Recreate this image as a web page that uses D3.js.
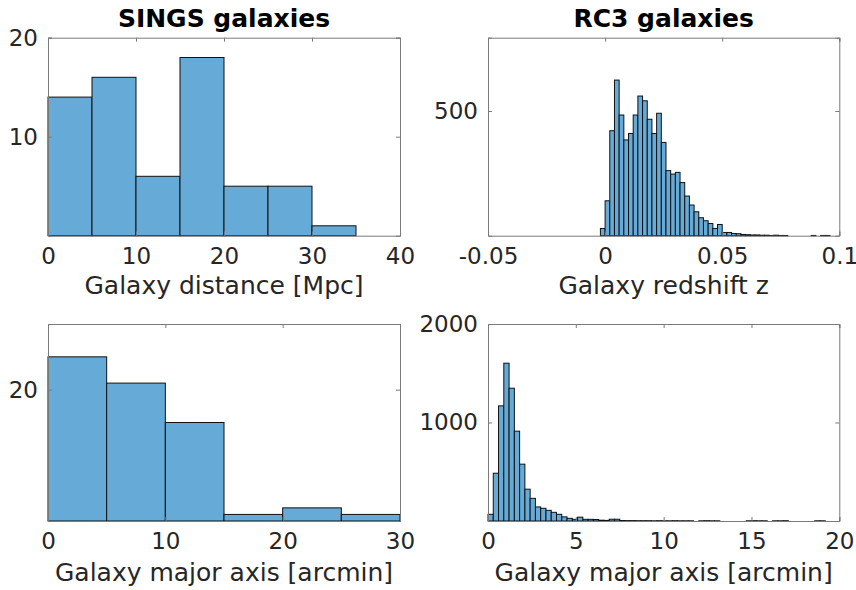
<!DOCTYPE html>
<html>
<head>
<meta charset="utf-8">
<script src="https://cdn.jsdelivr.net/npm/d3@7/dist/d3.min.js"></script>
<style>
  html, body { margin: 0; padding: 0; background: #fff; }
  svg { display: block; font-family: "DejaVu Sans", sans-serif; }
</style>
</head>
<body>
<svg id="chart" width="856" height="590"></svg>
<script>
// SINGS distance histogram (bin width 5 Mpc, starting at 0)
const singsDistStart = 0, singsDistWidth = 5;
const singsDistCounts = [14, 16, 6, 18, 5, 5, 1];
const singsDistXTicks = [0, 10, 20, 30, 40];
const singsDistYTicks = [10, 20];

// RC3 redshift histogram (bin width 0.002, starting at -0.002)
const rc3ZStart = -0.002, rc3ZWidth = 0.002;
const rc3ZCounts = [29, 140, 421, 624, 484, 384, 410, 484, 560, 541,
                    467, 410, 491, 374, 261, 247, 254, 213, 159, 123,
                    96, 72, 60, 49, 29, 45, 13, 13, 9, 8,
                    5, 4, 3, 3, 2, 2, 1, 2, 1, 1,
                    0, 0, 0, 0, 0, 1, 0, 1, 1];
const rc3ZXTicks = [-0.05, 0, 0.05, 0.1];
const rc3ZXTickLabels = ["-0.05", "0", "0.05", "0.1"];
const rc3ZYTicks = [500];

// SINGS major-axis histogram (bin width 5 arcmin, starting at 0)
const singsAxStart = 0, singsAxWidth = 5;
const singsAxCounts = [25, 21, 15, 1, 2, 1];
const singsAxXTicks = [0, 10, 20, 30];
const singsAxYTicks = [20];

// RC3 major-axis histogram (bin width 0.3 arcmin, starting at 0)
const rc3AxStart = 0, rc3AxWidth = 0.3;
const rc3AxCounts = [68, 485, 1169, 1602, 1348, 912, 577, 323, 230, 143,
                     129, 108, 88, 68, 42, 27, 17, 39, 17, 17,
                     15, 8, 6, 18, 18, 5, 4, 4, 3, 3,
                     3, 2, 3, 2, 2, 3, 2, 2, 2, 0,
                     2, 3, 2, 2, 0, 0, 0, 0, 0, 2,
                     3, 2, 2, 0, 2, 2, 3, 0, 0, 0,
                     0, 0, 2, 2];
const rc3AxXTicks = [0, 5, 10, 15, 20];
const rc3AxYTicks = [1000, 2000];

const svg = d3.select("#chart");
const textColor = "#262626";
const barFill = "#66aad7";
const tickLen = 4;
const tickFont = 23;
const labelFont = 25;

function panel(cfg) {
  const { box, xDomain, yDomain, start, width, counts, xTicks, xTickLabels, yTicks, xLabel, labelOffset, title } = cfg;
  const x = d3.scaleLinear().domain(xDomain).range([box.left, box.right]);
  const y = d3.scaleLinear().domain(yDomain).range([box.bottom, box.top]);
  const g = svg.append("g");

  const bins = counts.map((c, i) => ({ x0: start + i * width, x1: start + (i + 1) * width, c }))
                     .filter(d => d.c > 0);

  g.selectAll("rect.bar").data(bins).join("rect")
    .attr("class", "bar")
    .attr("x", d => x(d.x0))
    .attr("width", d => x(d.x1) - x(d.x0))
    .attr("y", d => y(d.c))
    .attr("height", d => y(0) - y(d.c))
    .attr("fill", barFill)
    .attr("stroke", "#111")
    .attr("stroke-width", 1);

  // axes with inward ticks on all four sides
  const xFmt = (d, i) => xTickLabels ? xTickLabels[i] : String(d);
  const yFmt = d => String(d);
  const bottom = d3.axisBottom(x).tickValues(xTicks).tickSize(-tickLen).tickPadding(12).tickFormat(xFmt);
  const top = d3.axisTop(x).tickValues(xTicks).tickSize(-tickLen).tickFormat("");
  const left = d3.axisLeft(y).tickValues(yTicks).tickSize(-tickLen).tickPadding(10).tickFormat(yFmt);
  const right = d3.axisRight(y).tickValues(yTicks).tickSize(-tickLen).tickFormat("");

  const axes = [
    g.append("g").attr("transform", `translate(0,${box.bottom})`).call(bottom),
    g.append("g").attr("transform", `translate(0,${box.top})`).call(top),
    g.append("g").attr("transform", `translate(${box.left},0)`).call(left),
    g.append("g").attr("transform", `translate(${box.right},0)`).call(right)
  ];
  axes.forEach(a => {
    a.select(".domain").attr("stroke", "#7a7a7a").attr("stroke-width", 1);
    a.selectAll(".tick line").attr("stroke", "#7a7a7a");
    a.selectAll(".tick text").attr("fill", textColor).attr("font-size", tickFont)
      .attr("font-family", "DejaVu Sans, sans-serif");
  });

  g.append("text")
    .attr("x", (box.left + box.right) / 2)
    .attr("y", box.bottom + labelOffset)
    .attr("text-anchor", "middle")
    .attr("fill", textColor)
    .attr("font-size", labelFont)
    .text(xLabel);

  if (title) {
    g.append("text")
      .attr("x", (box.left + box.right) / 2)
      .attr("y", box.top - 11)
      .attr("text-anchor", "middle")
      .attr("fill", "#000")
      .attr("font-size", labelFont)
      .attr("font-weight", "bold")
      .text(title);
  }
}

const topRow = { top: 37.7, bottom: 235.7 };
const botRow = { top: 324, bottom: 521 };
const leftCol = { left: 48, right: 400 };
const rightCol = { left: 488, right: 839.3 };

panel({
  box: { ...leftCol, ...topRow }, xDomain: [0, 40], yDomain: [0, 20],
  start: singsDistStart, width: singsDistWidth, counts: singsDistCounts,
  xTicks: singsDistXTicks, yTicks: singsDistYTicks,
  xLabel: "Galaxy distance [Mpc]", labelOffset: 58, title: "SINGS galaxies"
});
panel({
  box: { ...rightCol, ...topRow }, xDomain: [-0.05, 0.1], yDomain: [0, 794],
  start: rc3ZStart, width: rc3ZWidth, counts: rc3ZCounts,
  xTicks: rc3ZXTicks, xTickLabels: rc3ZXTickLabels, yTicks: rc3ZYTicks,
  xLabel: "Galaxy redshift z", labelOffset: 58, title: "RC3 galaxies"
});
panel({
  box: { ...leftCol, ...botRow }, xDomain: [0, 30], yDomain: [0, 30],
  start: singsAxStart, width: singsAxWidth, counts: singsAxCounts,
  xTicks: singsAxXTicks, yTicks: singsAxYTicks,
  xLabel: "Galaxy major axis [arcmin]", labelOffset: 60
});
panel({
  box: { ...rightCol, ...botRow }, xDomain: [0, 20], yDomain: [0, 2000],
  start: rc3AxStart, width: rc3AxWidth, counts: rc3AxCounts,
  xTicks: rc3AxXTicks, yTicks: rc3AxYTicks,
  xLabel: "Galaxy major axis [arcmin]", labelOffset: 60
});
</script>
</body>
</html>
